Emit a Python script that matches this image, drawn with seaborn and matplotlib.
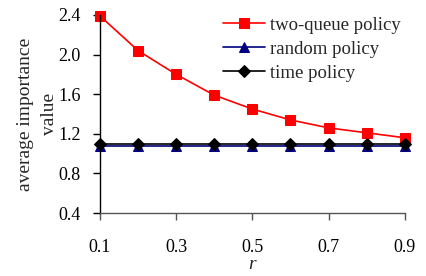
import matplotlib
matplotlib.use("Agg")
import matplotlib.pyplot as plt
import seaborn as sns
import pandas as pd

r = [0.1, 0.2, 0.3, 0.4, 0.5, 0.6, 0.7, 0.8, 0.9]
two_queue = [2.39, 2.04, 1.80, 1.59, 1.45, 1.34, 1.26, 1.21, 1.16]
random_policy = [1.08, 1.08, 1.08, 1.08, 1.08, 1.08, 1.08, 1.08, 1.08]
time_policy = [1.10, 1.10, 1.10, 1.10, 1.10, 1.10, 1.10, 1.10, 1.10]
x_ticks = [0.1, 0.3, 0.5, 0.7, 0.9]
y_ticks = [0.4, 0.8, 1.2, 1.6, 2.0, 2.4]

sns.set_style("white")
plt.rcParams['font.family'] = ['Liberation Serif', 'DejaVu Serif']

fig = plt.figure(figsize=(4.27, 2.76), dpi=100)
ax = fig.add_axes([0.234, 0.228, 0.714, 0.718])

series = [
    ("two-queue policy", two_queue, "#ff0000", "s", 7),
    ("random policy", random_policy, "#000080", "^", 7),
    ("time policy", time_policy, "#000000", "D", 6),
]
for name, vals, col, mk, ms in series:
    df = pd.DataFrame({"r": r, "v": vals})
    sns.lineplot(data=df, x="r", y="v", ax=ax, color=col, marker=mk,
                 markersize=ms, markeredgecolor=col, linewidth=1.2,
                 label=name, zorder=3)

ax.set_xlim(0.1, 0.9)
ax.set_ylim(0.4, 2.4)
ax.set_xticks(x_ticks)
ax.set_xticklabels([f"{t:.1f}" for t in x_ticks])
ax.set_yticks(y_ticks)
ax.set_yticklabels([f"{t:.1f}" for t in y_ticks])
ax.tick_params(axis='both', labelsize=13, direction='out', length=5, width=1,
               left=True, bottom=True, colors='black')
ax.tick_params(axis='x', color='#555555', pad=14)
ax.tick_params(axis='y', pad=9)
ax.set_xlabel("r", fontsize=14, style='italic', labelpad=0)
ax.set_ylabel("average importance\nvalue", fontsize=14, labelpad=0, linespacing=1.5)
for s in ['top', 'right']:
    ax.spines[s].set_visible(False)
ax.spines['left'].set_color('black')
ax.spines['bottom'].set_color('#555555')
ax.spines['left'].set_linewidth(1)
ax.spines['bottom'].set_linewidth(1)
ax.spines['left'].set_zorder(5)
ax.spines['bottom'].set_zorder(5)
for sp in ax.spines.values():
    sp.set_clip_on(False)
for line in ax.lines:
    line.set_clip_on(False)

leg = ax.legend(loc='upper right', bbox_to_anchor=(1.0, 1.01), frameon=True,
                fontsize=13.5, handlelength=2.25, handletextpad=0.27,
                labelspacing=0.36, borderpad=0.2, borderaxespad=0.0)
leg.get_frame().set_facecolor('white')
leg.get_frame().set_edgecolor('none')
leg.get_frame().set_alpha(1)
leg.set_zorder(10)

fig.savefig("out.png", dpi=100)
